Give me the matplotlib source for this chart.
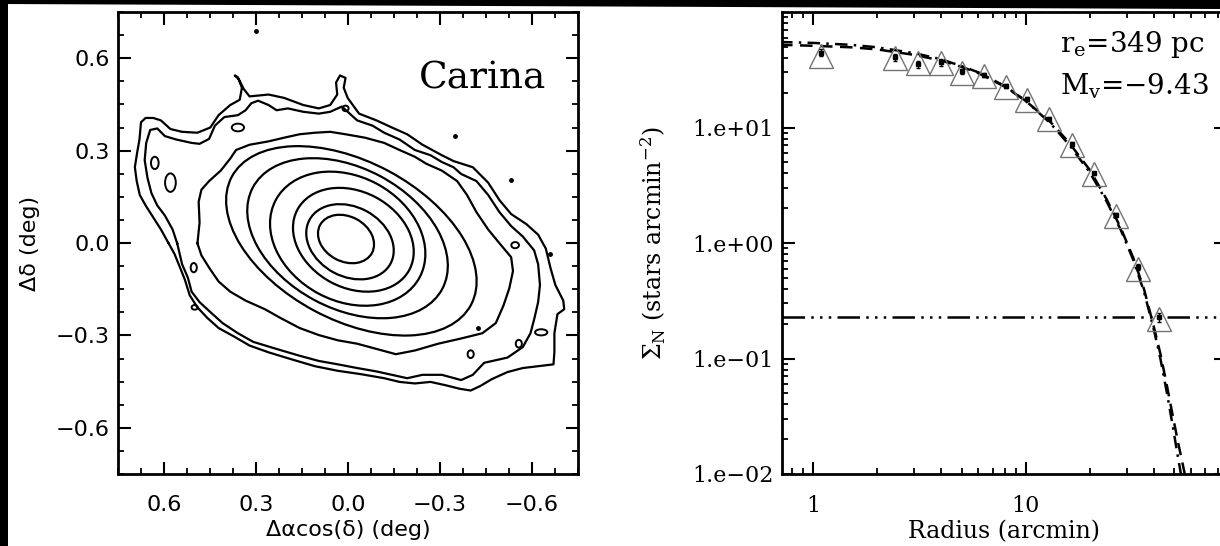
import numpy as np
import matplotlib
matplotlib.use('Agg')
import matplotlib.pyplot as plt
from matplotlib.patches import Ellipse, Rectangle, Polygon
from matplotlib.ticker import FixedLocator, FixedFormatter, MultipleLocator, LogLocator, NullFormatter

# ---------------- left panel: Carina isodensity contours (deg) ----------------
# inner contours are close to tilted ellipses: centre, width, height, angle
ell_x = [0.0065, -0.0065, -0.0175, 0.001, 0.0015, -0.011]
ell_y = [0.013, 0.004, 0.0105, 0.014, 0.0155, 0.007]
ell_w = [0.192, 0.300, 0.414, 0.532, 0.700, 0.884]
ell_h = [0.146, 0.226, 0.312, 0.404, 0.456, 0.514]
ell_ang = [28, 28, 28, 28, 28, 28]

# outer, noisier contours traced as vertices (x, y)
contour7 = [(0.491, -0.001), (0.484, 0.066), (0.487, 0.134), (0.478, 0.173), (0.453, 0.201),
            (0.415, 0.235), (0.384, 0.274), (0.365, 0.302), (0.321, 0.319), (0.259, 0.330),
            (0.208, 0.342), (0.158, 0.353), (0.108, 0.358), (0.058, 0.361), (0.008, 0.353),
            (-0.055, 0.342), (-0.118, 0.325), (-0.168, 0.302), (-0.218, 0.280), (-0.256, 0.257),
            (-0.306, 0.235), (-0.356, 0.201), (-0.388, 0.156), (-0.419, 0.100), (-0.457, 0.044),
            (-0.494, -0.001), (-0.532, -0.046), (-0.538, -0.091), (-0.526, -0.147), (-0.507, -0.203),
            (-0.482, -0.260), (-0.438, -0.293), (-0.369, -0.310), (-0.294, -0.327), (-0.218, -0.349),
            (-0.156, -0.361), (-0.093, -0.344), (-0.030, -0.327), (0.033, -0.316), (0.095, -0.299),
            (0.158, -0.276), (0.221, -0.243), (0.271, -0.215), (0.334, -0.187), (0.384, -0.158),
            (0.422, -0.125), (0.453, -0.080), (0.478, -0.040), (0.491, -0.001)]

contour8 = [(0.557, -0.001), (0.572, 0.044), (0.597, 0.089), (0.622, 0.122), (0.641, 0.162),
            (0.654, 0.212), (0.663, 0.269), (0.658, 0.325), (0.645, 0.367), (0.622, 0.372),
            (0.597, 0.347), (0.560, 0.336), (0.510, 0.325), (0.484, 0.322), (0.453, 0.338),
            (0.434, 0.381), (0.403, 0.409), (0.359, 0.415), (0.334, 0.431), (0.315, 0.454),
            (0.293, 0.462), (0.259, 0.448), (0.233, 0.431), (0.196, 0.437), (0.146, 0.426),
            (0.095, 0.420), (0.058, 0.426), (0.020, 0.443), (0.001, 0.426), (-0.030, 0.398),
            (-0.080, 0.381), (-0.118, 0.358), (-0.168, 0.336), (-0.218, 0.302), (-0.269, 0.285),
            (-0.306, 0.263), (-0.344, 0.246), (-0.369, 0.224), (-0.419, 0.201), (-0.457, 0.156),
            (-0.494, 0.100), (-0.532, 0.055), (-0.570, 0.021), (-0.607, -0.024), (-0.620, -0.069),
            (-0.626, -0.136), (-0.620, -0.192), (-0.607, -0.248), (-0.595, -0.293), (-0.570, -0.338),
            (-0.520, -0.372), (-0.444, -0.389), (-0.407, -0.428), (-0.369, -0.445), (-0.306, -0.428),
            (-0.243, -0.428), (-0.193, -0.439), (-0.143, -0.428), (-0.093, -0.417), (-0.030, -0.406),
            (0.033, -0.394), (0.095, -0.383), (0.158, -0.366), (0.233, -0.344), (0.309, -0.321),
            (0.359, -0.293), (0.409, -0.260), (0.447, -0.226), (0.484, -0.192), (0.510, -0.158),
            (0.522, -0.113), (0.541, -0.069), (0.557, -0.001)]

contour9 = [(0.585, -0.001), (0.610, 0.044), (0.635, 0.083), (0.660, 0.122), (0.679, 0.156),
            (0.689, 0.201), (0.695, 0.246), (0.688, 0.291), (0.680, 0.336), (0.675, 0.392),
            (0.660, 0.406), (0.635, 0.406), (0.610, 0.398), (0.579, 0.370), (0.541, 0.361),
            (0.491, 0.358), (0.449, 0.375), (0.422, 0.415), (0.384, 0.448), (0.353, 0.465),
            (0.346, 0.504), (0.359, 0.538), (0.369, 0.544), (0.355, 0.530), (0.340, 0.500),
            (0.321, 0.476), (0.259, 0.482), (0.208, 0.471), (0.146, 0.448), (0.095, 0.437),
            (0.058, 0.448), (0.035, 0.482), (0.039, 0.521), (0.026, 0.544), (0.008, 0.536),
            (0.014, 0.504), (0.001, 0.471), (-0.036, 0.420), (-0.093, 0.398), (-0.143, 0.375),
            (-0.193, 0.353), (-0.243, 0.319), (-0.306, 0.285), (-0.344, 0.266), (-0.407, 0.246),
            (-0.457, 0.196), (-0.494, 0.139), (-0.532, 0.094), (-0.582, 0.061), (-0.620, 0.027),
            (-0.645, -0.018), (-0.660, -0.080), (-0.676, -0.136), (-0.702, -0.187), (-0.705, -0.215),
            (-0.683, -0.231), (-0.673, -0.293), (-0.673, -0.355), (-0.670, -0.394), (-0.620, -0.400),
            (-0.570, -0.406), (-0.520, -0.419), (-0.469, -0.442), (-0.432, -0.464), (-0.400, -0.479),
            (-0.363, -0.473), (-0.319, -0.462), (-0.269, -0.451), (-0.218, -0.456), (-0.168, -0.451),
            (-0.118, -0.439), (-0.043, -0.426), (0.033, -0.415), (0.108, -0.400), (0.183, -0.378),
            (0.259, -0.355), (0.321, -0.333), (0.371, -0.304), (0.422, -0.276), (0.459, -0.243),
            (0.491, -0.209), (0.516, -0.170), (0.532, -0.119), (0.550, -0.074), (0.566, -0.035),
            (0.585, -0.001)]

# small closed islands: centre x, centre y, width, height
isl_x = [0.359, 0.503, 0.500, -0.545, -0.400, -0.630, -0.557, 0.008, 0.579, 0.630]
isl_y = [0.375, -0.080, -0.209, -0.007, -0.361, -0.290, -0.327, 0.437, 0.196, 0.260]
isl_w = [0.040, 0.020, 0.020, 0.025, 0.020, 0.040, 0.020, 0.020, 0.035, 0.025]
isl_h = [0.025, 0.030, 0.015, 0.020, 0.025, 0.020, 0.025, 0.018, 0.060, 0.040]

# isolated single-pixel peaks
dot_x = [0.299, -0.350, -0.532, -0.658, -0.425]
dot_y = [0.687, 0.349, 0.203, -0.035, -0.276]

deg_ticks = [-0.6, -0.3, 0.0, 0.3, 0.6]
deg_labels = ['\u22120.6', '\u22120.3', '0.0', '0.3', '0.6']

# ---------------- right panel: radial profile ----------------
r_obs = [1.09, 2.44, 3.13, 3.98, 5.0, 6.38, 8.05, 10.2, 12.9, 16.5, 20.9, 26.5, 33.6, 42.4]
sig_tri = [41.4, 40.0, 36.0, 36.0, 29.7, 27.7, 22.2, 17.4, 11.9, 7.07, 3.92, 1.71, 0.60, 0.22]
sig_obs = [44.4, 40.5, 35.3, 36.6, 30.8, 28.3, 22.7, 17.8, 11.9, 7.2, 4.0, 1.74, 0.62, 0.228]
sig_err = [3.0, 3.0, 2.5, 2.5, 1.5, 1.2, 0.9, 0.7, 0.4, 0.25, 0.15, 0.07, 0.04, 0.02]

r_mod = [0.7, 1.0, 1.5, 2.0, 3.0, 4.0, 5.0, 6.0, 8.0, 10, 13, 16, 20, 24, 28, 32, 36,
         40, 43, 46, 49, 52, 56, 60]
sig_king = [52, 51, 49.5, 47.5, 42.5, 38, 33.5, 29.5, 22.5, 17.0, 11.3, 7.4, 4.3, 2.4, 1.35,
            0.75, 0.40, 0.19, 0.11, 0.06, 0.033, 0.019, 0.010, 0.005]
sig_plum = [55, 54, 52, 49.5, 44, 39, 34, 30, 22.8, 17.0, 11.0, 7.1, 4.1, 2.3, 1.3, 0.72,
            0.38, 0.18, 0.10, 0.052, 0.027, 0.014, 0.0065, 0.003]
sig_bg = 0.23

r_ticks = [1, 10]
r_labels = ['1', '10']
s_ticks = [0.01, 0.1, 1, 10]
s_labels = ['1.e\u221202', '1.e\u221201', '1.e+00', '1.e+01']

plt.rcParams['mathtext.fontset'] = 'dejavuserif'

fig = plt.figure(figsize=(12.2, 5.46), dpi=100)
W, H = 1220.0, 546.0
ax1 = fig.add_axes([118 / W, 1 - 474 / H, 460 / W, 462 / H])
ax2 = fig.add_axes([782 / W, 1 - 474 / H, 444 / W, 462 / H])

# black scan borders
fig.add_artist(Polygon([[0, 1], [1, 1], [1, 1 - 9 / H], [0, 1 - 4 / H]],
                       transform=fig.transFigure, color='black', lw=0))
fig.add_artist(Rectangle((0, 0), 8 / W, 1, transform=fig.transFigure, color='black', lw=0))

# ---- left ----
for cx, cy, w, h, a in zip(ell_x, ell_y, ell_w, ell_h, ell_ang):
    ax1.add_patch(Ellipse((cx, cy), w, h, angle=a, fill=False, ec='black', lw=1.6))
for c in (contour7, contour8, contour9):
    c = np.array(c)
    ax1.plot(c[:, 0], c[:, 1], color='black', lw=1.6)
for cx, cy, w, h in zip(isl_x, isl_y, isl_w, isl_h):
    ax1.add_patch(Ellipse((cx, cy), w, h, fill=False, ec='black', lw=1.4))
ax1.plot(dot_x, dot_y, 'o', color='black', ms=2.5)

ax1.set_xlim(0.75, -0.75)
ax1.set_ylim(-0.75, 0.75)
for axis in (ax1.xaxis, ax1.yaxis):
    axis.set_major_locator(FixedLocator(deg_ticks))
    axis.set_major_formatter(FixedFormatter(deg_labels))
    axis.set_minor_locator(MultipleLocator(0.075))
ax1.text(-0.645, 0.533, 'Carina', ha='right', va='center', fontsize=27,
         family='DejaVu Serif', fontweight='light')
ax1.set_xlabel('\u0394\u03b1cos(\u03b4) (deg)', fontsize=16, family='DejaVu Sans')
ax1.set_ylabel('\u0394\u03b4 (deg)', fontsize=16, family='DejaVu Sans')
ax1.xaxis.set_label_coords(0.5, -0.1)
ax1.yaxis.set_label_coords(-0.17, 0.5)
for lab in ax1.get_xticklabels() + ax1.get_yticklabels():
    lab.set_family('DejaVu Sans')
ax1.tick_params(which='both', direction='in', top=True, right=True, labelsize=16)
ax1.tick_params(axis='x', pad=15)
ax1.tick_params(axis='y', pad=6)

# ---- right ----
ax2.set_xscale('log')
ax2.set_yscale('log')
ax2.plot(r_mod, sig_king, color='black', lw=1.8, ls=(0, (5, 3)))
ax2.plot(r_mod, sig_plum, color='black', lw=1.8, ls=(0, (5, 2.5, 1, 2.5)))
ax2.axhline(sig_bg, color='black', lw=1.8, ls=(0, (9, 2.5, 1, 2.5, 1, 2.5, 1, 2.5)))
ax2.plot(r_obs, sig_tri, ls='none', marker='^', ms=17, mfc='none', mec='0.45', mew=1.0)
ax2.errorbar(r_obs, sig_obs, yerr=sig_err, fmt='s', ms=2.5, color='black',
             elinewidth=1.0, capsize=1.5)
ax2.set_xlim(0.715, 87.5)
ax2.set_ylim(0.01, 100)
ax2.xaxis.set_major_locator(FixedLocator(r_ticks))
ax2.xaxis.set_major_formatter(FixedFormatter(r_labels))
ax2.yaxis.set_major_locator(FixedLocator(s_ticks))
ax2.yaxis.set_major_formatter(FixedFormatter(s_labels))
for axis in (ax2.xaxis, ax2.yaxis):
    axis.set_minor_locator(LogLocator(base=10, subs=np.arange(2, 10)))
    axis.set_minor_formatter(NullFormatter())
for lab in ax2.get_xticklabels() + ax2.get_yticklabels():
    lab.set_family('DejaVu Serif')
ax2.tick_params(which='both', direction='in', top=True, right=True, labelsize=16)
ax2.tick_params(axis='x', pad=15)
ax2.tick_params(axis='y', pad=6)
ax2.set_xlabel('Radius (arcmin)', fontsize=17, family='DejaVu Serif')
ax2.set_ylabel(r'$\Sigma_{\rm N}$ (stars arcmin$^{-2}$)', fontsize=17, family='DejaVu Serif')
ax2.xaxis.set_label_coords(0.5, -0.1)
ax2.yaxis.set_label_coords(-0.257, 0.5)
ax2.text(0.626, 0.929, r'r$_{\rm e}$=349 pc', transform=ax2.transAxes, ha='left',
         va='center', fontsize=20, family='DejaVu Serif')
ax2.text(0.626, 0.840, 'M$_{\\rm v}$=\u22129.43', transform=ax2.transAxes, ha='left',
         va='center', fontsize=20, family='DejaVu Serif')

for ax in (ax1, ax2):
    for sp in ax.spines.values():
        sp.set_linewidth(2.0)
    ax.tick_params(which='major', length=9, width=1.5)
    ax.tick_params(which='minor', length=4.5, width=1.3)

fig.savefig('out.png', dpi=100)
